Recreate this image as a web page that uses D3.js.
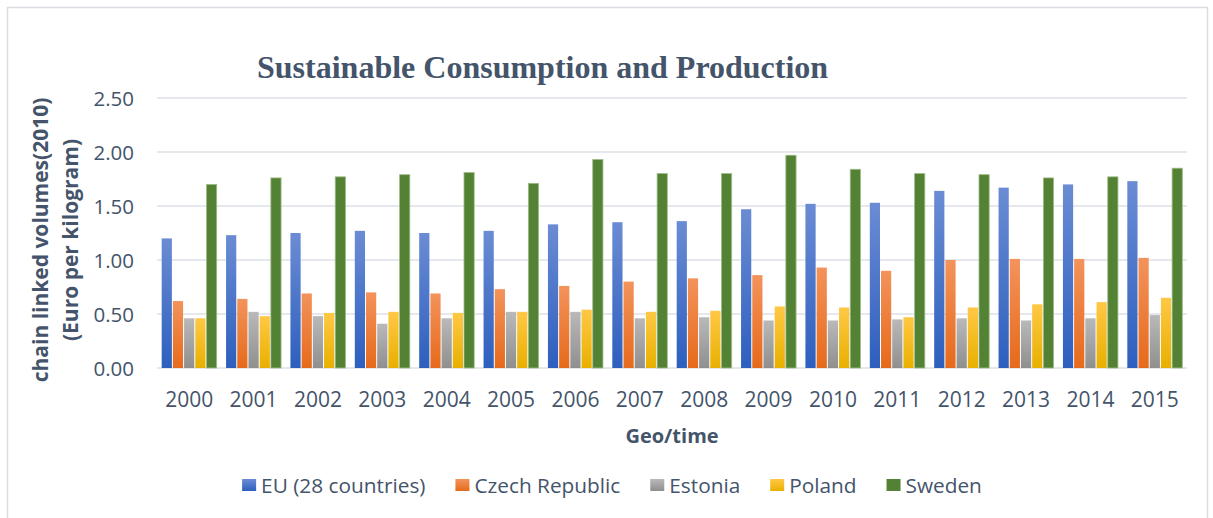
<!DOCTYPE html>
<html>
<head>
<meta charset="utf-8">
<script src="https://cdnjs.cloudflare.com/ajax/libs/d3/7.8.5/d3.min.js"></script>
<style>
  body { margin: 0; background: #fff; }
  svg text { fill: #44546a; }
</style>
</head>
<body>
<svg id="chart"></svg>
<script>
// values
var years = ["2000", "2001", "2002", "2003", "2004", "2005", "2006", "2007",
  "2008", "2009", "2010", "2011", "2012", "2013", "2014", "2015"];
var seriesNames = ["EU (28 countries)", "Czech Republic", "Estonia", "Poland", "Sweden"];
var eu = [1.20, 1.23, 1.25, 1.27, 1.25, 1.27, 1.33, 1.35, 1.36, 1.47, 1.52, 1.53, 1.64, 1.67, 1.70, 1.73];
var cz = [0.62, 0.64, 0.69, 0.70, 0.69, 0.73, 0.76, 0.80, 0.83, 0.86, 0.93, 0.90, 1.00, 1.01, 1.01, 1.02];
var ee = [0.46, 0.52, 0.48, 0.41, 0.46, 0.52, 0.52, 0.46, 0.47, 0.44, 0.44, 0.45, 0.46, 0.44, 0.46, 0.49];
var pl = [0.46, 0.48, 0.51, 0.52, 0.51, 0.52, 0.54, 0.52, 0.53, 0.57, 0.56, 0.47, 0.56, 0.59, 0.61, 0.65];
var se = [1.70, 1.76, 1.77, 1.79, 1.81, 1.71, 1.93, 1.80, 1.80, 1.97, 1.84, 1.80, 1.79, 1.76, 1.77, 1.85];
var yTicks = [0, 0.5, 1.0, 1.5, 2.0, 2.5];

var allSeries = [eu, cz, ee, pl, se];
// gradient top / bottom colours per series
var colors = [
  ["#6b8cd4", "#2d5fbe"],
  ["#f3935b", "#e66a1b"],
  ["#b9b9b9", "#8f8f8f"],
  ["#ffc845", "#e8b000"],
  ["#548235", "#548235"]
];

var W = 1213, H = 518;
var margin = { left: 157, right: 26, top: 98, bottom: 150 };

var svg = d3.select("#chart").attr("width", W).attr("height", H);

// outer frame
svg.append("rect")
  .attr("x", 7.5).attr("y", 7.5)
  .attr("width", 1200).attr("height", 520)
  .attr("fill", "none")
  .attr("stroke", "#d9dde3")
  .attr("stroke-width", 1.5);

var defs = svg.append("defs");
colors.forEach(function (c, i) {
  var g = defs.append("linearGradient")
    .attr("id", "grad" + i)
    .attr("x1", 0).attr("y1", 0).attr("x2", 0).attr("y2", 1);
  g.append("stop").attr("offset", "0%").attr("stop-color", c[0]);
  g.append("stop").attr("offset", "100%").attr("stop-color", c[1]);
});

var x0 = d3.scaleBand()
  .domain(years)
  .range([margin.left, W - margin.right])
  .paddingInner(0.13)
  .paddingOuter(0.065);

var x1 = d3.scaleBand()
  .domain(d3.range(seriesNames.length))
  .range([0, x0.bandwidth()]);

var y = d3.scaleLinear()
  .domain([0, 2.5])
  .range([368, 98]);

// gridlines
svg.append("g")
  .selectAll("line")
  .data(yTicks)
  .join("line")
  .attr("x1", margin.left)
  .attr("x2", W - margin.right)
  .attr("y1", d => y(d))
  .attr("y2", d => y(d))
  .attr("stroke", "#dde1e7")
  .attr("stroke-width", 1.6);

// y axis labels
var yAxis = d3.axisLeft(y).tickValues(yTicks).tickFormat(d3.format(".2f")).tickSize(0).tickPadding(0);
svg.append("g")
  .attr("transform", "translate(134,0)")
  .call(yAxis)
  .call(g => g.select(".domain").remove())
  .selectAll("text")
  .attr("font-family", "Open Sans")
  .attr("font-size", "20.5px")
  .attr("dy", "0.36em")
  .style("fill", "#44546a");

// x axis labels
var xAxis = d3.axisBottom(x0).tickSize(0).tickPadding(0);
svg.append("g")
  .attr("transform", "translate(0,399)")
  .call(xAxis)
  .call(g => g.select(".domain").remove())
  .selectAll("text")
  .attr("font-family", "Open Sans")
  .attr("font-size", "21px")
  .attr("dy", "0.36em")
  .style("fill", "#44546a");

// bars
var groups = svg.append("g")
  .selectAll("g")
  .data(years)
  .join("g")
  .attr("transform", d => "translate(" + x0(d) + ",0)");

groups.selectAll("rect")
  .data((d, i) => allSeries.map((s, k) => ({ k: k, v: s[i] })))
  .join("rect")
  .attr("x", d => x1(d.k) + 0.5)
  .attr("width", x1.bandwidth() - 1)
  .attr("y", d => y(d.v))
  .attr("height", d => y(0) - y(d.v))
  .attr("fill", d => "url(#grad" + d.k + ")")
  .attr("stroke", d => d.k == 4 ? "#9fbb86" : "none")
  .attr("stroke-width", 0.8);

// title
svg.append("text")
  .attr("x", 257)
  .attr("y", 78)
  .attr("font-family", "Liberation Serif")
  .attr("font-weight", "bold")
  .attr("font-size", "32px")
  .style("fill", "#44546a")
  .text("Sustainable Consumption and Production");

// y axis title
var yt = svg.append("text")
  .attr("transform", "translate(48,240) rotate(-90)")
  .attr("text-anchor", "middle")
  .attr("font-family", "Open Sans")
  .attr("font-weight", "bold")
  .attr("font-size", "21px")
  .style("fill", "#44546a");
yt.append("tspan").attr("x", 0).attr("y", 0).text("chain linked volumes(2010)");
yt.append("tspan").attr("x", 0).attr("y", 30).text("(Euro per kilogram)");

// x axis title
svg.append("text")
  .attr("x", 672)
  .attr("y", 443)
  .attr("text-anchor", "middle")
  .attr("font-family", "Open Sans")
  .attr("font-weight", "bold")
  .attr("font-size", "20px")
  .style("fill", "#44546a")
  .text("Geo/time");

// legend
var legend = svg.append("g").attr("transform", "translate(0,485)");
var items = legend.selectAll("g")
  .data(seriesNames)
  .join("g");
items.append("rect")
  .attr("x", 0).attr("y", -6)
  .attr("width", 14).attr("height", 12)
  .attr("fill", (d, i) => "url(#grad" + i + ")");
items.append("text")
  .attr("x", 19)
  .attr("dy", "0.36em")
  .attr("font-family", "Open Sans")
  .attr("font-size", "20.8px")
  .style("fill", "#44546a")
  .text(d => d);
var pos = 0, gap = 30, offsets = [];
items.each(function () {
  offsets.push(pos);
  pos += 19 + this.querySelector("text").getComputedTextLength() + gap;
});
var total = pos - gap;
var start = 612 - total / 2;
items.attr("transform", (d, i) => "translate(" + (start + offsets[i]) + ",0)");
</script>
</body>
</html>
